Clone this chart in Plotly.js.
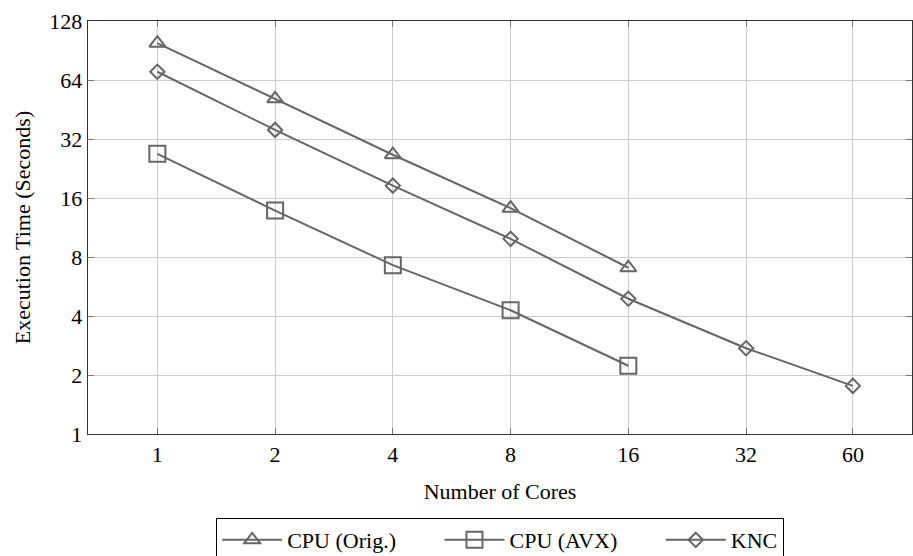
<!DOCTYPE html>
<html>
<head>
<meta charset="utf-8">
<script src="https://cdn.plot.ly/plotly-3.0.1.min.js"></script>
<style>html,body{margin:0;padding:0;background:#fff;}#chart{width:913px;height:556px;}</style>
</head>
<body>
<div id="chart"></div>
<script>
const cores = [1, 2, 4, 8, 16, 32, 60];
const cpuOrig = [98.6, 51.3, 26.6, 14.2, 7.05];
const cpuAvx = [26.9, 13.8, 7.27, 4.28, 2.23];
const knc = [70.5, 35.6, 18.5, 9.9, 4.9, 2.74, 1.76];
const seriesNames = ['CPU (Orig.)', 'CPU (AVX)', 'KNC'];
const xTickVals = [1, 2, 4, 8, 16, 32, 60];
const xTickText = ['1', '2', '4', '8', '16', '32', '60'];
const yTickVals = [1, 2, 4, 8, 16, 32, 64, 128];
const yTickText = ['1', '2', '4', '8', '16', '32', '64', '128'];

const lineColor = '#666666';
const font = {family: '"Liberation Serif", "Times New Roman", serif', size: 22, color: '#000'};
const pad = '\u00a0'.repeat(7);

function series(name, ys, symbol, size) {
  return {
    type: 'scatter', mode: 'lines+markers', name: name,
    x: cores.slice(0, ys.length), y: ys,
    line: {color: lineColor, width: 2},
    marker: {symbol: symbol, size: size, color: lineColor, line: {color: lineColor, width: 2}},
    cliponaxis: false
  };
}

const data = [
  series(seriesNames[0] + pad, cpuOrig, 'triangle-up-open', 14),
  series(seriesNames[1] + pad, cpuAvx, 'square-open', 16),
  series(seriesNames[2], knc, 'diamond-open', 11)
];

const layout = {
  width: 913, height: 556,
  margin: {l: 88, r: 1, t: 21, b: 122, autoexpand: false},
  paper_bgcolor: '#fff', plot_bgcolor: '#fff',
  font: font,
  showlegend: true,
  legend: {
    orientation: 'h', x: 0.5, xanchor: 'center', y: -0.203, yanchor: 'top',
    bordercolor: '#000', borderwidth: 1.2, font: font,
    itemwidth: 60, traceorder: 'normal'
  },
  xaxis: {
    type: 'log', range: [-0.1773, 1.9293],
    tickvals: xTickVals, ticktext: xTickText,
    showgrid: true, gridcolor: '#cccccc', gridwidth: 1,
    showline: true, linecolor: '#333', linewidth: 1.3, mirror: 'ticks',
    ticks: 'inside', ticklen: 6, tickcolor: '#777', tickwidth: 1,
    zeroline: false, tickfont: font,
    title: {text: 'Number of Cores', font: font, standoff: 18}
  },
  yaxis: {
    type: 'log', range: [0, 2.10721],
    tickvals: yTickVals, ticktext: yTickText,
    showgrid: true, gridcolor: '#cccccc', gridwidth: 1,
    showline: true, linecolor: '#333', linewidth: 1.3, mirror: 'ticks',
    ticks: 'inside', ticklen: 6, tickcolor: '#777', tickwidth: 1,
    zeroline: false, tickfont: font,
    title: {text: 'Execution Time (Seconds)', font: font, standoff: 12}
  }
};

Plotly.newPlot('chart', data, layout, {staticPlot: true, displayModeBar: false});
</script>
</body>
</html>
